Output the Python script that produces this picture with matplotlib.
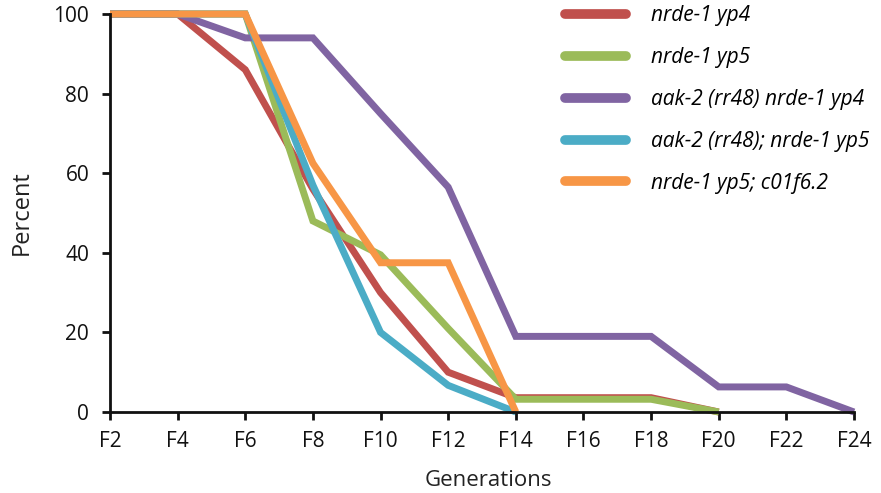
import matplotlib.pyplot as plt

generations = [2, 4, 6, 8, 10, 12, 14, 16, 18, 20, 22, 24]
gen_labels = ["F" + str(g) for g in generations]

labels = [
    "nrde-1 yp4",
    "nrde-1 yp5",
    "aak-2 (rr48) nrde-1 yp4",
    "aak-2 (rr48); nrde-1 yp5",
    "nrde-1 yp5; c01f6.2",
]
nrde1_yp4 = [100, 100, 86, 56, 30, 10, 3.6, 3.6, 3.6, 0]
nrde1_yp5 = [100, 100, 100, 48, 39.5, 21, 3.2, 3.2, 3.2, 0]
aak2_nrde1_yp4 = [100, 100, 94, 94, 75, 56.5, 19, 19, 19, 6.3, 6.3, 0]
aak2_nrde1_yp5 = [100, 100, 100, 57, 20, 6.7, 0]
nrde1_yp5_c01f6 = [100, 100, 100, 62.5, 37.5, 37.5, 0]

series = [nrde1_yp4, nrde1_yp5, aak2_nrde1_yp4, aak2_nrde1_yp5, nrde1_yp5_c01f6]
colors = ["#C0504D", "#9BBB59", "#8064A2", "#4BACC6", "#F79646"]

plt.rcParams["font.family"] = ["Open Sans", "DejaVu Sans"]

fig = plt.figure(figsize=(8.81, 4.93), dpi=100)
ax = fig.add_axes([110 / 881, 1 - 412 / 493, 744 / 881, 398 / 493])

for vals, lab, col in zip(series, labels, colors):
    ax.plot(generations[:len(vals)], vals, color=col, lw=5, label=lab,
            solid_joinstyle="miter", solid_capstyle="butt", clip_on=False)

ax.set_xlim(2, 24)
ax.set_ylim(0, 100)
ax.set_xticks(generations)
ax.set_xticklabels(gen_labels)
ax.set_yticks([0, 20, 40, 60, 80, 100])

for s in ["top", "right"]:
    ax.spines[s].set_visible(False)
for s in ["left", "bottom"]:
    ax.spines[s].set_linewidth(2)
    ax.spines[s].set_color("#111111")
ax.tick_params(direction="out", length=6, width=2, labelsize=15, colors="#111111")
ax.tick_params(axis="x", pad=8)
ax.tick_params(axis="y", pad=9)

ax.set_xlabel("Generations", fontsize=16, color="#222222")
ax.set_ylabel("Percent", fontsize=17, color="#222222")
ax.xaxis.set_label_coords(0.509, -0.146)
ax.yaxis.set_label_coords(-0.102, 0.5)

leg = ax.legend(loc="upper left", bbox_to_anchor=(557 / 881, 1.006), bbox_transform=fig.transFigure,
                frameon=False, prop={"style": "italic", "size": 15},
                handlelength=2.9, handletextpad=1.2, labelspacing=1.0, borderaxespad=0)
for h in leg.get_lines():
    h.set_linewidth(7)
    h.set_solid_capstyle("round")

fig.savefig("out.png", dpi=100)
